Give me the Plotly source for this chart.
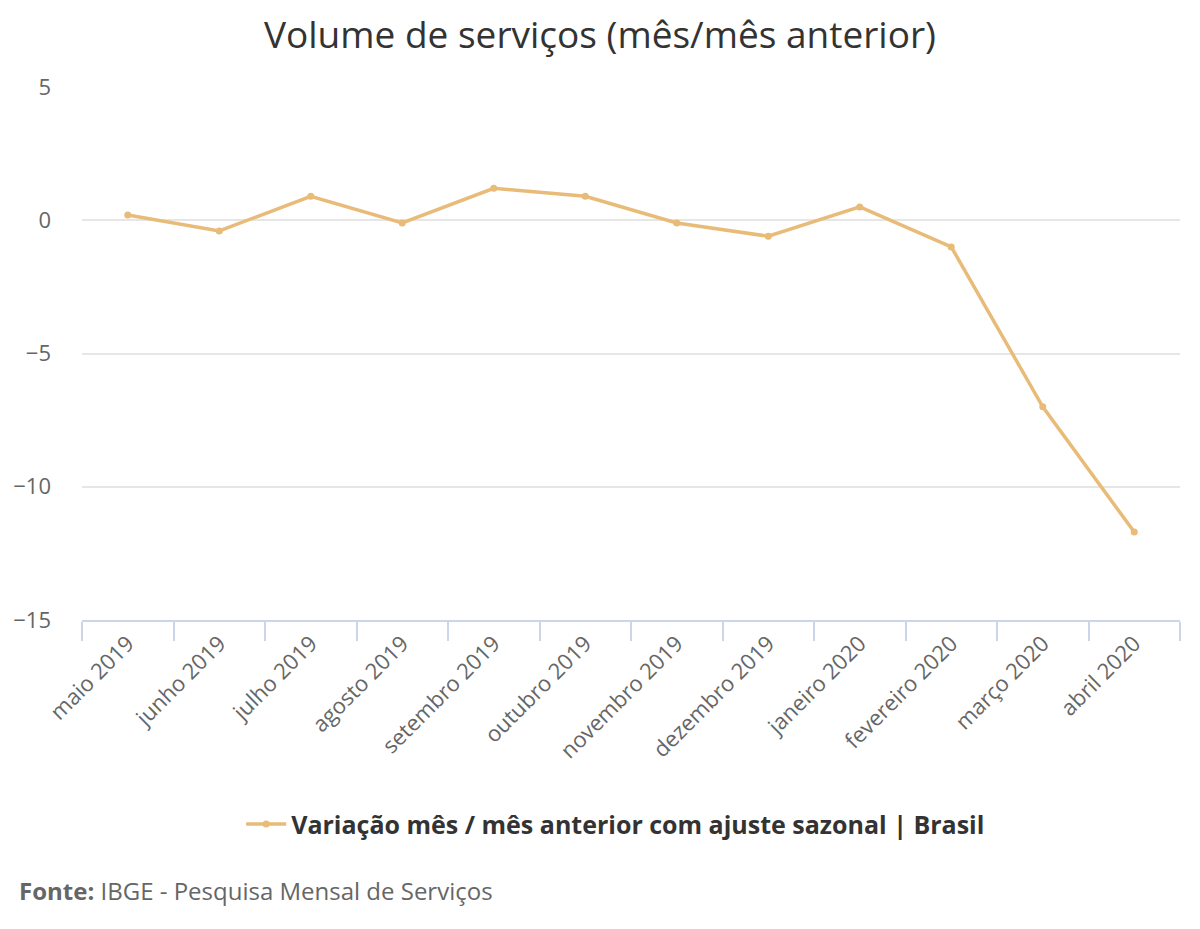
import plotly.graph_objects as go

categories = ["maio 2019", "junho 2019", "julho 2019", "agosto 2019", "setembro 2019",
              "outubro 2019", "novembro 2019", "dezembro 2019", "janeiro 2020",
              "fevereiro 2020", "março 2020", "abril 2020"]
values = [0.2, -0.4, 0.9, -0.1, 1.2, 0.9, -0.1, -0.6, 0.5, -1.0, -7.0, -11.7]
y_ticks = [-15, -10, -5, 0, 5]
y_tick_labels = ["−15", "−10", "−5", "0", "5"]
series_name = "Variação mês / mês anterior com ajuste sazonal | Brasil"

FONT = "Open Sans"
COLOR = "#e8bb78"

fig = go.Figure()
fig.add_trace(go.Scatter(
    x=categories, y=values, mode="lines+markers", name=series_name,
    line=dict(color=COLOR, width=3.5),
    marker=dict(color=COLOR, size=7),
))

fig.update_layout(
    width=1200, height=929,
    paper_bgcolor="white", plot_bgcolor="white",
    margin=dict(l=74, r=28, t=79, b=317),
    font=dict(family=FONT, color="#666666"),
    title=dict(text="Volume de serviços (mês/mês anterior)", x=0.4933, xanchor="center",
               y=0.971, yanchor="middle", font=dict(family=FONT, size=37, color="#333333")),
    showlegend=True,
    legend=dict(orientation="h", x=0.486, xanchor="center", y=-0.383, yanchor="middle",
                font=dict(family=FONT, size=25, color="#333333", weight="bold"), itemwidth=40),
    xaxis=dict(type="category", showgrid=False, showline=True, linecolor="#ccd6eb", linewidth=2,
               ticks="outside", tickson="boundaries", ticklen=19, tickcolor="#ccd6eb", tickwidth=1.5,
               tickangle=-45, tickfont=dict(family=FONT, size=22, color="#666666"),
               range=[-0.5, 11.5], automargin=False),
    yaxis=dict(range=[-15, 5], tickvals=y_ticks, ticktext=y_tick_labels, showgrid=True,
               gridcolor="#e6e6e6", gridwidth=1.5, zeroline=False, showline=False,
               tickfont=dict(family=FONT, size=22, color="#666666"), ticklabelstandoff=30,
               automargin=False),
)

fig.add_annotation(text="<b>Fonte:</b> IBGE - Pesquisa Mensal de Serviços", xref="paper", yref="paper",
                   x=-0.0594, y=-0.508, xanchor="left", yanchor="middle", showarrow=False,
                   font=dict(family=FONT, size=24, color="#666666"))

fig.write_html("out.html")
